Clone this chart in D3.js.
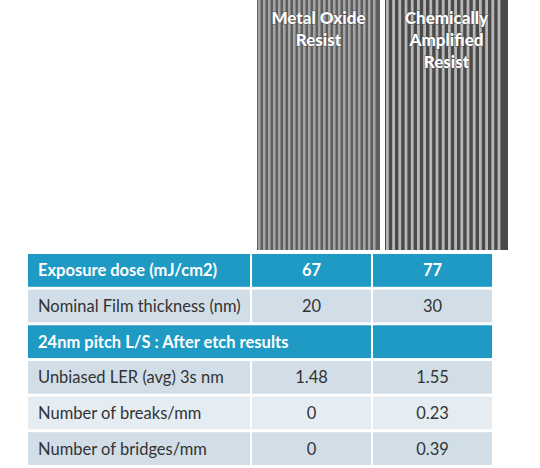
<!DOCTYPE html>
<html>
<head>
<meta charset="utf-8">
<script src="https://cdn.jsdelivr.net/npm/d3@7"></script>
<style>body{margin:0;background:#fff}</style>
</head>
<body>
<script>
var width = 540, height = 468;

// table data
var rowLabels = ["Exposure dose (mJ/cm2)", "Nominal Film thickness (nm)", "24nm pitch L/S : After etch results",
                 "Unbiased LER (avg) 3s nm", "Number of breaks/mm", "Number of bridges/mm"];
var metalOxide = ["67", "20", "", "1.48", "0", "0"];
var chemAmp = ["77", "30", "", "1.55", "0.23", "0.39"];
var rowKinds = ["head", "body", "head", "body", "light", "body"];
var imageTitles = [["Metal Oxide", "Resist"], ["Chemically", "Amplified", "Resist"]];
var imagePitch = [5.0, 6.2];

var svg = d3.select("body").append("svg").attr("width", width).attr("height", height);

// SEM-like images
var imgX = [257, 385], imgW = 123, imgH = 250;
imageTitles.forEach(function(t, k) {
  var g = svg.append("g").attr("transform", "translate(" + imgX[k] + ",0)");
  g.append("rect").attr("width", imgW).attr("height", imgH).attr("fill", k ? "#4a4a4a" : "#5e5e5e");
  var n = Math.floor(imgW / imagePitch[k]);
  g.selectAll("rect.s").data(d3.range(n)).enter().append("rect")
    .attr("x", function(i) { return i * imagePitch[k] + 1; })
    .attr("width", imagePitch[k] * (k ? 0.45 : 0.5))
    .attr("height", imgH).attr("fill", k ? "#b8b8b8" : "#a5a5a5");
  g.selectAll("text").data(t).enter().append("text")
    .attr("x", imgW / 2).attr("y", function(d, i) { return 24 + i * 22; })
    .attr("text-anchor", "middle").attr("font-family", "Lato, sans-serif")
    .attr("font-weight", "900").attr("font-size", 17).attr("fill", "#fff")
    .attr("stroke", "#555").attr("stroke-width", 1).attr("paint-order", "stroke")
    .text(function(d) { return d; });
});

// table
var cols = [27, 251, 372, 493];
var y = d3.scaleBand().domain(d3.range(rowLabels.length)).range([254, 465]).paddingInner(0.08);
var fills = { head: "#1e9ac4", body: "#d1dee8", light: "#e5edf3" };

var rows = svg.selectAll("g.row").data(rowLabels).enter().append("g").attr("class", "row");
rows.each(function(label, i) {
  var g = d3.select(this), kind = rowKinds[i], yy = y(i), h = y.bandwidth();
  var cells = kind === "head" && i === 2
    ? [[cols[0], cols[2]], [cols[2], cols[3]]]
    : [[cols[0], cols[1]], [cols[1], cols[2]], [cols[2], cols[3]]];
  cells.forEach(function(c) {
    g.append("rect").attr("x", c[0] + 1).attr("y", yy).attr("width", c[1] - c[0] - 2)
      .attr("height", h).attr("fill", fills[kind]);
  });
  var color = kind === "head" ? "#fff" : "#333";
  var weight = kind === "head" ? "bold" : "normal";
  var vals = [label, metalOxide[i], chemAmp[i]];
  vals.forEach(function(v, j) {
    g.append("text")
      .attr("x", j === 0 ? cols[0] + 11 : (cols[j] + cols[j + 1]) / 2)
      .attr("y", yy + h / 2 + 6)
      .attr("text-anchor", j === 0 ? "start" : "middle")
      .attr("font-family", "Lato, sans-serif").attr("font-size", 16.5)
      .attr("font-weight", weight).attr("fill", color).text(v);
  });
});
</script>
</body>
</html>
